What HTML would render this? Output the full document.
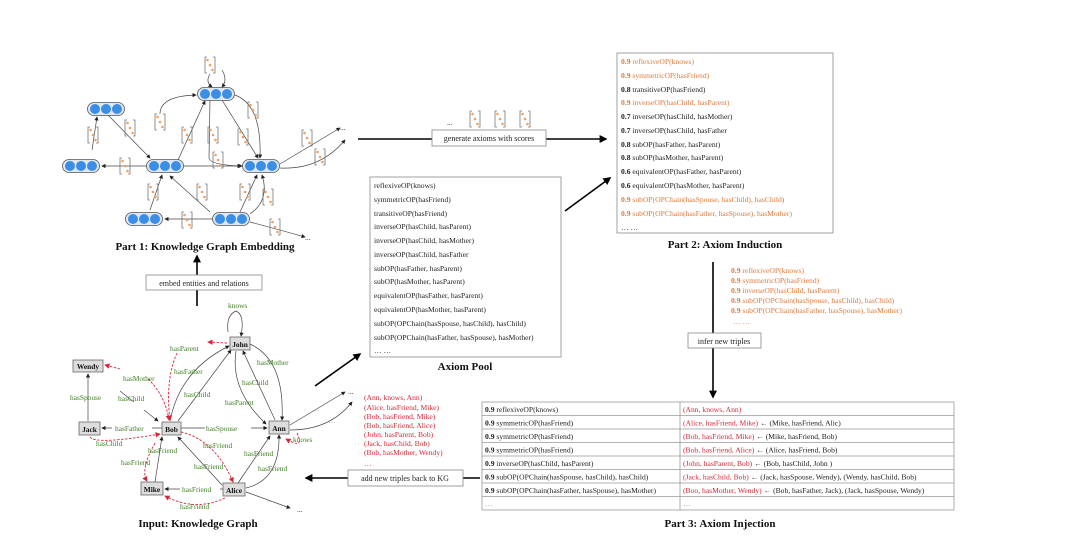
<!DOCTYPE html>
<html><head><meta charset="utf-8"><style>
html,body{margin:0;padding:0;background:#fff}
svg{display:block}
text{font-family:"Liberation Serif",serif}
.t{font-size:7.6px;fill:#222}
.o{font-size:7.6px;fill:#e07a3a}
.r{font-size:7.6px;fill:#d62839}
.g{font-size:7.4px;fill:#3f7f22}
.ttl{font-size:11px;font-weight:bold;fill:#111}
.nd{font-size:7.4px;font-weight:bold;fill:#111}
</style></head><body>
<svg width="1080" height="536" viewBox="0 0 1080 536" xmlns="http://www.w3.org/2000/svg">
<defs>
<marker id="a" markerWidth="6" markerHeight="6" refX="5" refY="3" orient="auto"><path d="M0,0L6,3L0,6z" fill="#222"/></marker>
<marker id="ar" markerWidth="6" markerHeight="6" refX="5" refY="3" orient="auto"><path d="M0,0L6,3L0,6z" fill="#d62839"/></marker>
<marker id="ab" markerWidth="5" markerHeight="5" refX="4" refY="2.5" orient="auto"><path d="M0,0L5,2.5L0,5z" fill="#000"/></marker>
<g id="v"><path d="M-3,-8h-2v16h2M3,-8h2v16h-2" fill="none" stroke="#777" stroke-width="0.8"/><circle cx="-2.5" cy="-5" r="1.3" fill="#f0a060"/><circle cx="0" cy="0" r="1.3" fill="#f0a060"/><circle cx="2.5" cy="5" r="1.3" fill="#f0a060"/></g>
<g id="e"><rect x="-18.5" y="-6.5" width="37" height="13" rx="6.5" fill="#dfe8f2" stroke="#555" stroke-width="0.8"/><circle cx="-11" cy="0" r="5" fill="#3a8ee6"/><circle cx="0" cy="0" r="5" fill="#3a8ee6"/><circle cx="11" cy="0" r="5" fill="#3a8ee6"/></g>
</defs>

<!-- Part 1 embedding edges -->
<g fill="none" stroke="#444" stroke-width="0.7" marker-end="url(#a)">
<path d="M210,74 Q205,82 212,87"/>
<path d="M222,70 Q228,80 222,87"/>
<path d="M160,114 Q160,96 196,95"/>
<path d="M178,160 L205,101"/>
<path d="M210,100 L209,158 Q210,165 242,166"/>
<path d="M222,100 L258,158"/>
<path d="M235,95 Q262,105 260,158"/>
<path d="M108,115 L150,158"/>
<path d="M92,150 L97,117"/>
<path d="M147,166 L102,166"/>
<path d="M183,166 L241,166"/>
<path d="M280,164 L340,128"/>
<path d="M280,168 Q320,170 345,140"/>
<path d="M150,210 L162,175"/>
<path d="M210,212 L170,176"/>
<path d="M240,212 L257,175"/>
<path d="M250,214 Q270,200 262,175"/>
<path d="M213,219 L165,219"/>
<path d="M250,222 Q280,230 305,237"/>
</g>
<use href="#e" x="216" y="94"/><use href="#e" x="106" y="109"/><use href="#e" x="81" y="166"/>
<use href="#e" x="165" y="166"/><use href="#e" x="261" y="166"/><use href="#e" x="144" y="219"/><use href="#e" x="231" y="219"/>
<g fill="#fff"><rect x="203" y="56" width="14" height="18"/></g>
<use href="#v" x="210" y="65"/><use href="#v" x="160" y="122"/><use href="#v" x="187" y="135"/><use href="#v" x="213" y="135"/>
<use href="#v" x="253" y="110"/><use href="#v" x="243" y="137"/><use href="#v" x="93" y="135"/><use href="#v" x="130" y="128"/>
<use href="#v" x="125" y="166"/><use href="#v" x="218" y="160"/><use href="#v" x="307" y="138"/><use href="#v" x="320" y="157"/>
<use href="#v" x="153" y="192"/><use href="#v" x="202" y="192"/><use href="#v" x="245" y="192"/><use href="#v" x="268" y="197"/>
<use href="#v" x="187" y="220"/><use href="#v" x="275" y="227"/>
<text x="340" y="130" class="t">...</text><text x="305" y="240" class="t">...</text>
<text x="205" y="250" class="ttl" text-anchor="middle">Part 1: Knowledge Graph Embedding</text>

<!-- embed arrow -->
<line x1="197" y1="306" x2="197" y2="256" stroke="#000" stroke-width="1.6" marker-end="url(#ab)"/>
<rect x="146" y="275" width="116" height="15" fill="#fff" stroke="#888" stroke-width="0.8"/>
<text x="204" y="286" class="t" text-anchor="middle" style="font-size:8px">embed entities and relations</text>

<!-- generate axioms -->
<line x1="358" y1="139" x2="606" y2="139" stroke="#000" stroke-width="1.6" marker-end="url(#ab)"/>
<rect x="432" y="130" width="114" height="16" fill="#fff" stroke="#888" stroke-width="0.8"/>
<text x="489" y="141" class="t" text-anchor="middle" style="font-size:8px">generate axioms with scores</text>
<text x="447" y="125" class="t">...</text>
<use href="#v" x="475" y="119"/><use href="#v" x="500" y="119"/><use href="#v" x="525" y="119"/>

<!-- Axiom pool -->
<rect x="370" y="177" width="191" height="180" fill="#fff" stroke="#999" stroke-width="0.9"/>
<g class="t">
<text x="374" y="188" class="t">reflexiveOP(knows)</text>
<text x="374" y="202" class="t">symmetricOP(hasFriend)</text>
<text x="374" y="216" class="t">transitiveOP(hasFriend)</text>
<text x="374" y="229" class="t">inverseOP(hasChild, hasParent)</text>
<text x="374" y="243" class="t">inverseOP(hasChild, hasMother)</text>
<text x="374" y="257" class="t">inverseOP(hasChild, hasFather</text>
<text x="374" y="271" class="t">subOP(hasFather, hasParent)</text>
<text x="374" y="284" class="t">subOP(hasMother, hasParent)</text>
<text x="374" y="298" class="t">equivalentOP(hasFather, hasParent)</text>
<text x="374" y="312" class="t">equivalentOP(hasMother, hasParent)</text>
<text x="374" y="326" class="t">subOP(OPChain(hasSpouse, hasChild), hasChild)</text>
<text x="374" y="340" class="t">subOP(OPChain(hasFather, hasSpouse), hasMother)</text>
<text x="374" y="353" class="t">… …</text>
</g>
<text x="465" y="370" class="ttl" text-anchor="middle">Axiom Pool</text>
<line x1="565" y1="211" x2="610" y2="178" stroke="#000" stroke-width="1.6" marker-end="url(#ab)"/>
<line x1="315" y1="386" x2="360" y2="354" stroke="#000" stroke-width="1.6" marker-end="url(#ab)"/>

<!-- Part 2 -->
<rect x="617" y="53" width="216" height="180" fill="#fff" stroke="#999" stroke-width="0.9"/>
<text x="621" y="64" class="o"><tspan font-weight="bold">0.9</tspan> reflexiveOP(knows)</text>
<text x="621" y="78" class="o"><tspan font-weight="bold">0.9</tspan> symmetricOP(hasFriend)</text>
<text x="621" y="92" class="t"><tspan font-weight="bold">0.8</tspan> transitiveOP(hasFriend)</text>
<text x="621" y="105" class="o"><tspan font-weight="bold">0.9</tspan> inverseOP(hasChild, hasParent)</text>
<text x="621" y="119" class="t"><tspan font-weight="bold">0.7</tspan> inverseOP(hasChild, hasMother)</text>
<text x="621" y="133" class="t"><tspan font-weight="bold">0.7</tspan> inverseOP(hasChild, hasFather</text>
<text x="621" y="147" class="t"><tspan font-weight="bold">0.8</tspan> subOP(hasFather, hasParent)</text>
<text x="621" y="160" class="t"><tspan font-weight="bold">0.8</tspan> subOP(hasMother, hasParent)</text>
<text x="621" y="174" class="t"><tspan font-weight="bold">0.6</tspan> equivalentOP(hasFather, hasParent)</text>
<text x="621" y="188" class="t"><tspan font-weight="bold">0.6</tspan> equivalentOP(hasMother, hasParent)</text>
<text x="621" y="202" class="o"><tspan font-weight="bold">0.9</tspan> subOP(OPChain(hasSpouse, hasChild), hasChild)</text>
<text x="621" y="216" class="o"><tspan font-weight="bold">0.9</tspan> subOP(OPChain(hasFather, hasSpouse), hasMother)</text>
<text x="621" y="230" class="t">… …</text>
<text x="725" y="248" class="ttl" text-anchor="middle">Part 2: Axiom Induction</text>

<!-- infer -->
<line x1="713" y1="262" x2="713" y2="397" stroke="#000" stroke-width="1.6" marker-end="url(#ab)"/>
<rect x="688" y="333" width="73" height="15" fill="#fff" stroke="#888" stroke-width="0.8"/>
<text x="724" y="344" class="t" text-anchor="middle" style="font-size:8px">infer new triples</text>
<text x="731" y="273" class="o"><tspan font-weight="bold">0.9</tspan> reflexiveOP(knows)</text>
<text x="731" y="283" class="o"><tspan font-weight="bold">0.9</tspan> symmetricOP(hasFriend)</text>
<text x="731" y="293" class="o"><tspan font-weight="bold">0.9</tspan> inverseOP(hasChild, hasParent)</text>
<text x="731" y="303" class="o"><tspan font-weight="bold">0.9</tspan> subOP(OPChain(hasSpouse, hasChild), hasChild)</text>
<text x="731" y="313" class="o"><tspan font-weight="bold">0.9</tspan> subOP(OPChain(hasFather, hasSpouse), hasMother)</text>
<text x="733" y="324" class="o">… …</text>

<!-- Part 3 table -->
<g stroke="#999" stroke-width="0.8" fill="none">
<rect x="482" y="402" width="472" height="108"/>
<line x1="680" y1="402" x2="680" y2="510"/>
<line x1="482" y1="415.5" x2="954" y2="415.5"/><line x1="482" y1="429" x2="954" y2="429"/>
<line x1="482" y1="442.5" x2="954" y2="442.5"/><line x1="482" y1="456" x2="954" y2="456"/>
<line x1="482" y1="469.5" x2="954" y2="469.5"/><line x1="482" y1="483" x2="954" y2="483"/>
<line x1="482" y1="496.5" x2="954" y2="496.5"/>
</g>
<text x="485" y="412" class="t"><tspan font-weight="bold">0.9</tspan> reflexiveOP(knows)</text>
<text x="485" y="425.5" class="t"><tspan font-weight="bold">0.9</tspan> symmetricOP(hasFriend)</text>
<text x="485" y="439" class="t"><tspan font-weight="bold">0.9</tspan> symmetricOP(hasFriend)</text>
<text x="485" y="452.5" class="t"><tspan font-weight="bold">0.9</tspan> symmetricOP(hasFriend)</text>
<text x="485" y="466" class="t"><tspan font-weight="bold">0.9</tspan> inverseOP(hasChild, hasParent)</text>
<text x="485" y="479.5" class="t"><tspan font-weight="bold">0.9</tspan> subOP(OPChain(hasSpouse, hasChild), hasChild)</text>
<text x="485" y="493" class="t"><tspan font-weight="bold">0.9</tspan> subOP(OPChain(hasFather, hasSpouse), hasMother)</text>
<text x="485" y="506" class="t" style="fill:#999">…</text>
<text x="683" y="412" class="r">(Ann, knows, Ann)</text>
<text x="683" y="425.5" class="t"><tspan class="r">(Alice, hasFriend, Mike)</tspan> ←  (Mike, hasFriend, Alic)</text>
<text x="683" y="439" class="t"><tspan class="r">(Bob, hasFriend, Mike)</tspan> ← (Mike, hasFriend, Bob)</text>
<text x="683" y="452.5" class="t"><tspan class="r">(Bob, hasFriend, Alice)</tspan> ← (Alice, hasFriend, Bob)</text>
<text x="683" y="466" class="t"><tspan class="r">(John, hasParent, Bob)</tspan> ←  (Bob, hasChild, John )</text>
<text x="683" y="479.5" class="t"><tspan class="r">(Jack, hasChild, Bob)</tspan> ← (Jack, hasSpouse, Wendy), (Wendy, hasChild, Bob)</text>
<text x="683" y="493" class="t"><tspan class="r">(Boo, hasMother, Wendy)</tspan> ← (Bob, hasFather, Jack), (Jack, hasSpouse, Wendy)</text>
<text x="683" y="506" class="t" style="fill:#999">…</text>
<text x="720" y="527" class="ttl" text-anchor="middle">Part 3: Axiom Injection</text>

<!-- add back -->
<line x1="480" y1="478" x2="306" y2="478" stroke="#000" stroke-width="1.6" marker-end="url(#ab)"/>
<rect x="348" y="470" width="115" height="16" fill="#fff" stroke="#888" stroke-width="0.8"/>
<text x="405" y="481" class="t" text-anchor="middle" style="font-size:8px">add new triples back to KG</text>
<g class="r">
<text x="364" y="400" class="r">(Ann, knows, Ann)</text>
<text x="364" y="410" class="r">(Alice, hasFriend, Mike)</text>
<text x="364" y="419" class="r">(Bob, hasFriend, Mike)</text>
<text x="364" y="428" class="r">(Bob, hasFriend, Alice)</text>
<text x="364" y="437" class="r">(John, hasParent, Bob)</text>
<text x="364" y="446" class="r">(Jack, hasChild, Bob)</text>
<text x="364" y="455" class="r">(Bob, hasMother, Wendy)</text>
<text x="364" y="466" class="r">…</text>
</g>

<!-- KG edges -->
<g fill="none" stroke="#444" stroke-width="0.7" marker-end="url(#a)">
<path d="M228,332 Q226,315 236,311 Q245,315 241,336"/>
<path d="M170,421 Q180,370 229,346"/>
<path d="M178,421 L231,350"/>
<path d="M250,344 Q285,360 282,420"/>
<path d="M275,420 L243,351"/>
<path d="M236,351 Q230,390 266,424"/>
<path d="M120,391 L158,421"/>
<path d="M88,421 L88,374"/>
<path d="M162,428 L102,428"/>
<path d="M181,428 L267,428"/>
<path d="M290,425 L345,392"/>
<path d="M290,430 Q330,430 352,402"/>
<path d="M155,482 L162,437"/>
<path d="M222,485 L178,437"/>
<path d="M238,483 L270,436"/>
<path d="M246,488 Q280,480 279,435"/>
<path d="M223,489 L165,489"/>
<path d="M246,492 L290,508"/>
</g>
<g fill="none" stroke="#d62839" stroke-width="0.9" stroke-dasharray="2.5,1.5" marker-end="url(#ar)">
<path d="M227,343 L208,342"/>
<path d="M177,353 Q165,380 170,420"/>
<path d="M148,379 Q165,395 169,420"/>
<path d="M120,369 L105,365"/>
<path d="M90,437 Q95,445 160,434"/>
<path d="M181,432 Q215,440 233,482"/>
<path d="M155,443 Q140,470 147,481"/>
<path d="M225,498 Q195,512 165,496"/>
<path d="M297,433 Q305,450 286,439"/>
</g>
<g fill="#ddd" stroke="#666" stroke-width="0.8">
<rect x="230" y="337" width="20" height="13"/><rect x="73" y="360" width="30" height="12"/>
<rect x="79" y="422" width="21" height="13"/><rect x="162" y="422" width="19" height="13"/>
<rect x="269" y="421" width="20" height="13"/><rect x="141" y="482" width="22" height="13"/>
<rect x="223" y="483" width="22" height="13"/>
</g>
<text x="240" y="347" class="nd" text-anchor="middle">John</text>
<text x="88" y="369" class="nd" text-anchor="middle">Wendy</text>
<text x="89.5" y="432" class="nd" text-anchor="middle">Jack</text>
<text x="171.5" y="432" class="nd" text-anchor="middle">Bob</text>
<text x="279" y="431" class="nd" text-anchor="middle">Ann</text>
<text x="152" y="492" class="nd" text-anchor="middle">Mike</text>
<text x="234" y="493" class="nd" text-anchor="middle">Alice</text>
<g>
<rect x="130" y="402" width="30" height="8" fill="#fff"/><rect x="205" y="426" width="46" height="8" fill="#fff"/>
<rect x="112" y="424" width="40" height="8" fill="#fff"/><rect x="180" y="486" width="40" height="8" fill="#fff"/>
</g>
<text x="228" y="308" class="g">knows</text>
<text x="170" y="351" class="g">hasParent</text>
<text x="174" y="374" class="g">hasFather</text>
<text x="123" y="381" class="g">hasMother</text>
<text x="70" y="400" class="g">hasSpouse</text>
<text x="118" y="401" class="g">hasChild</text>
<text x="184" y="397" class="g">hasChild</text>
<text x="257" y="365" class="g">hasMother</text>
<text x="242" y="385" class="g">hasChild</text>
<text x="225" y="405" class="g">hasParent</text>
<text x="115" y="431" class="g">hasFather</text>
<text x="206" y="431" class="g">hasSpouse</text>
<text x="96" y="446" class="g">hasChild</text>
<text x="148" y="453" class="g">hasFriend</text>
<text x="203" y="448" class="g">hasFriend</text>
<text x="121" y="465" class="g">hasFriend</text>
<text x="194" y="469" class="g">hasFriend</text>
<text x="244" y="456" class="g">hasFriend</text>
<text x="258" y="471" class="g">hasFriend</text>
<text x="182" y="492" class="g">hasFriend</text>
<text x="180" y="509" class="g">hasFriend</text>
<text x="293" y="442" class="g">knows</text>
<text x="312" y="411" class="t" style="fill:#999">…</text><text x="328" y="423" class="t" style="fill:#999">…</text>
<text x="348" y="394" class="t">...</text><text x="297" y="512" class="t">...</text>
<text x="266" y="502" class="t" style="fill:#999">…</text>
<text x="198" y="527" class="ttl" text-anchor="middle">Input: Knowledge Graph</text>
</svg>
</body></html>
